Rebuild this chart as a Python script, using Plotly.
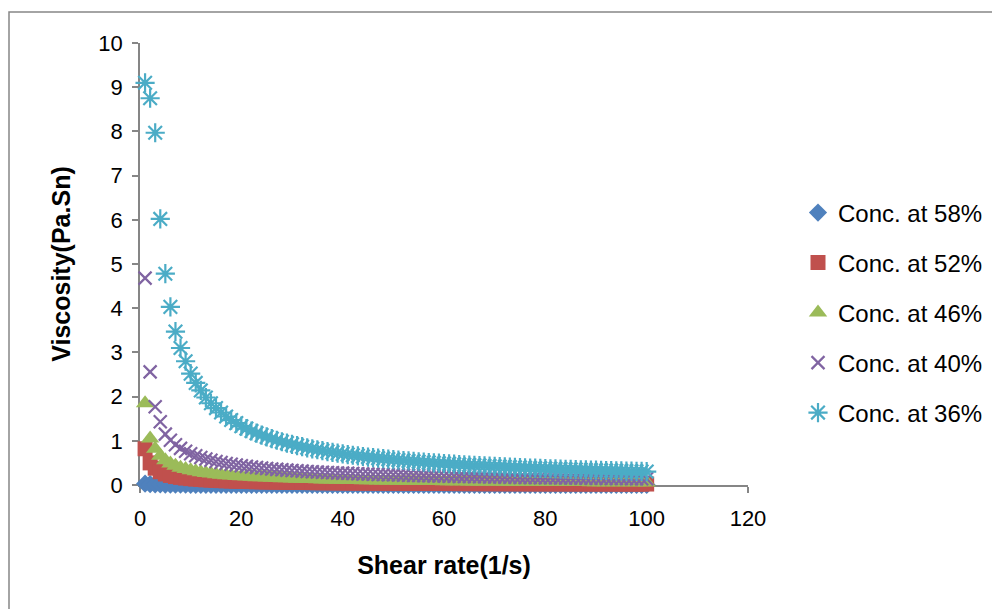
import plotly.graph_objects as go

shear_rate = [1, 2, 3, 4, 5, 6, 7, 8, 9, 10,
              11, 12, 13, 14, 15, 16, 17, 18, 19, 20,
              21, 22, 23, 24, 25, 26, 27, 28, 29, 30,
              31, 32, 33, 34, 35, 36, 37, 38, 39, 40,
              41, 42, 43, 44, 45, 46, 47, 48, 49, 50,
              51, 52, 53, 54, 55, 56, 57, 58, 59, 60,
              61, 62, 63, 64, 65, 66, 67, 68, 69, 70,
              71, 72, 73, 74, 75, 76, 77, 78, 79, 80,
              81, 82, 83, 84, 85, 86, 87, 88, 89, 90,
              91, 92, 93, 94, 95, 96, 97, 98, 99, 100]

conc_58 = [0.030, 0.018, 0.013, 0.011, 0.009, 0.008, 0.007, 0.006, 0.006, 0.005,
           0.005, 0.005, 0.004, 0.004, 0.004, 0.004, 0.004, 0.003, 0.003, 0.003,
           0.003, 0.003, 0.003, 0.003, 0.003, 0.003, 0.002, 0.002, 0.002, 0.002,
           0.002, 0.002, 0.002, 0.002, 0.002, 0.002, 0.002, 0.002, 0.002, 0.002,
           0.002, 0.002, 0.002, 0.002, 0.002, 0.002, 0.002, 0.002, 0.002, 0.002,
           0.001, 0.001, 0.001, 0.001, 0.001, 0.001, 0.001, 0.001, 0.001, 0.001,
           0.001, 0.001, 0.001, 0.001, 0.001, 0.001, 0.001, 0.001, 0.001, 0.001,
           0.001, 0.001, 0.001, 0.001, 0.001, 0.001, 0.001, 0.001, 0.001, 0.001,
           0.001, 0.001, 0.001, 0.001, 0.001, 0.001, 0.001, 0.001, 0.001, 0.001,
           0.001, 0.001, 0.001, 0.001, 0.001, 0.001, 0.001, 0.001, 0.001, 0.001]

conc_52 = [0.82, 0.50, 0.38, 0.30, 0.25, 0.216, 0.191, 0.172, 0.156, 0.144,
           0.133, 0.124, 0.116, 0.110, 0.104, 0.099, 0.094, 0.090, 0.086, 0.082,
           0.079, 0.076, 0.074, 0.071, 0.069, 0.067, 0.065, 0.063, 0.061, 0.059,
           0.058, 0.056, 0.055, 0.054, 0.052, 0.051, 0.050, 0.049, 0.048, 0.047,
           0.046, 0.045, 0.044, 0.044, 0.043, 0.042, 0.041, 0.041, 0.040, 0.039,
           0.039, 0.038, 0.037, 0.037, 0.036, 0.036, 0.035, 0.035, 0.034, 0.034,
           0.033, 0.033, 0.032, 0.032, 0.032, 0.031, 0.031, 0.030, 0.030, 0.030,
           0.029, 0.029, 0.029, 0.028, 0.028, 0.028, 0.027, 0.027, 0.027, 0.027,
           0.026, 0.026, 0.026, 0.026, 0.025, 0.025, 0.025, 0.025, 0.024, 0.024,
           0.024, 0.024, 0.024, 0.023, 0.023, 0.023, 0.023, 0.023, 0.022, 0.022]

conc_46 = [1.85, 1.05, 0.82, 0.661, 0.559, 0.488, 0.434, 0.393, 0.360, 0.333,
           0.310, 0.290, 0.273, 0.258, 0.245, 0.234, 0.223, 0.214, 0.205, 0.198,
           0.191, 0.184, 0.178, 0.173, 0.167, 0.162, 0.158, 0.154, 0.150, 0.146,
           0.142, 0.139, 0.136, 0.133, 0.130, 0.127, 0.125, 0.122, 0.120, 0.118,
           0.115, 0.113, 0.111, 0.109, 0.108, 0.106, 0.104, 0.103, 0.101, 0.0995,
           0.098, 0.097, 0.095, 0.094, 0.093, 0.091, 0.090, 0.089, 0.088, 0.087,
           0.086, 0.085, 0.084, 0.083, 0.082, 0.081, 0.080, 0.079, 0.078, 0.077,
           0.077, 0.076, 0.075, 0.074, 0.074, 0.073, 0.072, 0.072, 0.071, 0.070,
           0.070, 0.069, 0.068, 0.068, 0.067, 0.067, 0.066, 0.066, 0.065, 0.065,
           0.064, 0.064, 0.063, 0.063, 0.062, 0.062, 0.061, 0.061, 0.060, 0.059]

conc_40 = [4.68, 2.56, 1.77, 1.43, 1.151, 1.013, 0.909, 0.828, 0.762, 0.708,
           0.663, 0.623, 0.589, 0.560, 0.533, 0.510, 0.488, 0.469, 0.452, 0.436,
           0.421, 0.408, 0.396, 0.384, 0.373, 0.363, 0.354, 0.345, 0.336, 0.328,
           0.321, 0.314, 0.307, 0.301, 0.295, 0.289, 0.283, 0.278, 0.273, 0.268,
           0.264, 0.259, 0.255, 0.251, 0.247, 0.243, 0.239, 0.236, 0.233, 0.230,
           0.226, 0.223, 0.220, 0.217, 0.215, 0.212, 0.209, 0.207, 0.204, 0.202,
           0.200, 0.197, 0.195, 0.193, 0.191, 0.189, 0.187, 0.185, 0.183, 0.182,
           0.180, 0.178, 0.176, 0.175, 0.173, 0.171, 0.170, 0.168, 0.167, 0.165,
           0.164, 0.162, 0.161, 0.160, 0.158, 0.157, 0.156, 0.154, 0.153, 0.152,
           0.151, 0.150, 0.148, 0.147, 0.146, 0.145, 0.144, 0.143, 0.142, 0.141]

conc_36 = [9.10, 8.75, 7.97, 6.02, 4.78, 4.03, 3.47, 3.10, 2.80, 2.52,
           2.31, 2.14, 1.98, 1.85, 1.74, 1.64, 1.55, 1.47, 1.40, 1.33,
           1.276, 1.222, 1.173, 1.128, 1.087, 1.048, 1.012, 0.979, 0.948, 0.919,
           0.892, 0.866, 0.842, 0.819, 0.797, 0.776, 0.757, 0.738, 0.721, 0.704,
           0.688, 0.673, 0.659, 0.645, 0.632, 0.619, 0.607, 0.595, 0.585, 0.574,
           0.564, 0.554, 0.544, 0.535, 0.526, 0.517, 0.509, 0.501, 0.493, 0.485,
           0.478, 0.471, 0.464, 0.457, 0.451, 0.444, 0.438, 0.432, 0.427, 0.421,
           0.415, 0.410, 0.405, 0.400, 0.395, 0.390, 0.385, 0.381, 0.377, 0.373,
           0.368, 0.364, 0.360, 0.356, 0.352, 0.349, 0.345, 0.341, 0.338, 0.335,
           0.331, 0.328, 0.325, 0.321, 0.318, 0.315, 0.312, 0.309, 0.306, 0.304]

series_names = ["Conc. at 58%", "Conc. at 52%", "Conc. at 46%", "Conc. at 40%", "Conc. at 36%"]
series_values = [conc_58, conc_52, conc_46, conc_40, conc_36]
colors = ["#4F81BD", "#C0504D", "#9BBB59", "#8064A2", "#4BACC6"]
symbols = ["diamond", "square", "triangle-up", "x-thin-open", "asterisk-open"]
sizes = [14, 15, 16, 13, 16]

x_ticks = [0, 20, 40, 60, 80, 100, 120]
y_ticks = [0, 1, 2, 3, 4, 5, 6, 7, 8, 9, 10]

FONT = "Liberation Sans"
AXIS_COLOR = "#868686"

fig = go.Figure()
legend_names = ["legend", "legend2", "legend3", "legend4", "legend5"]
for i, (name, vals) in enumerate(zip(series_names, series_values)):
    marker = dict(symbol=symbols[i], size=sizes[i], color=colors[i])
    if symbols[i].endswith("open"):
        marker["line"] = dict(color=colors[i], width=2.2)
    else:
        marker["line"] = dict(width=0)
    fig.add_trace(go.Scatter(
        x=shear_rate, y=vals, mode="markers", name=name,
        marker=marker, cliponaxis=False, legend=legend_names[i],
    ))

# page has an 8px body margin; coordinates below are page pixels
OFF = 8
W, H = 1000, 609
L, T = 132, 35
plot_w, plot_h = 608, 442
R = W - L - plot_w
B = H - T - plot_h

def py(p):
    return (H - B - (p - OFF)) / plot_h

def px(p):
    return (p - OFF - L) / plot_w

legend_centers = [213, 263, 313, 363, 413]
layout_legends = {}
for i, lname in enumerate(legend_names):
    layout_legends[lname] = dict(
        x=px(798), y=py(legend_centers[i]), xanchor="left", yanchor="middle",
        font=dict(family=FONT, size=24, color="#000000"),
        bgcolor="rgba(0,0,0,0)", borderwidth=0, itemwidth=30,
    )

fig.update_layout(
    width=W, height=H,
    margin=dict(l=L, r=R, t=T, b=B),
    paper_bgcolor="white", plot_bgcolor="white",
    font=dict(family=FONT, color="#000000"),
    showlegend=True,
    **layout_legends,
    xaxis=dict(
        range=[0, 120], tickvals=x_ticks, ticks="outside", ticklen=6,
        tickcolor=AXIS_COLOR, tickwidth=1.5, ticklabelstandoff=7,
        showline=True, linecolor=AXIS_COLOR, linewidth=1.5,
        showgrid=False, zeroline=False, layer="below traces",
        tickfont=dict(family=FONT, size=22, color="#000000"),
        title=dict(text="<b>Shear rate(1/s)</b>", font=dict(family=FONT, size=25, color="#000000"), standoff=26),
    ),
    yaxis=dict(
        range=[0, 10], tickvals=y_ticks, ticks="outside", ticklen=6,
        tickcolor=AXIS_COLOR, tickwidth=1.5, ticklabelstandoff=5,
        showline=True, linecolor=AXIS_COLOR, linewidth=1.5,
        showgrid=False, zeroline=False, layer="below traces",
        tickfont=dict(family=FONT, size=22, color="#000000"),
        title=dict(text="<b>Viscosity(Pa.Sn)</b>", font=dict(family=FONT, size=25, color="#000000"), standoff=21),
    ),
    shapes=[dict(
        type="rect", xref="paper", yref="paper",
        x0=px(9), x1=px(1030), y0=py(640), y1=py(12),
        line=dict(color=AXIS_COLOR, width=1.5), fillcolor="rgba(0,0,0,0)", layer="below",
    )],
)

fig.write_html("out.html")
